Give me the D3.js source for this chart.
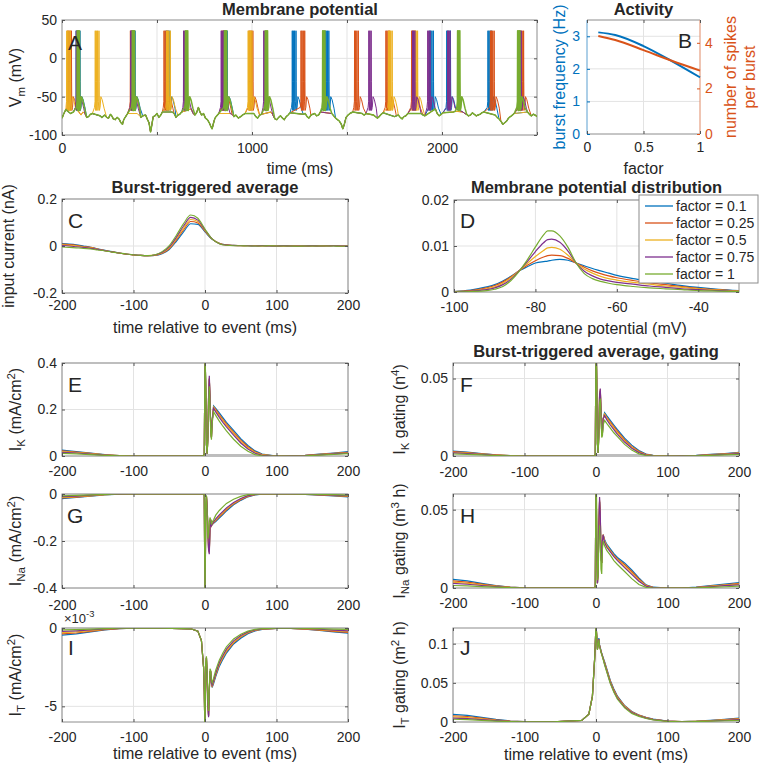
<!DOCTYPE html>
<html><head><meta charset="utf-8">
<script src="https://cdn.jsdelivr.net/npm/d3@7"></script>
<style>body{margin:0;background:#fff} text{font-family:"Liberation Sans",Arial,Helvetica,sans-serif}</style>
</head><body><script>
// ---------------- DATA ----------------
const seriesColors = ['#0072BD','#D95319','#EDB120','#7E2F8E','#77AC30'];
const factorLabels = ['factor = 0.1','factor = 0.25','factor = 0.5','factor = 0.75','factor = 1'];

// Panel A: shared sub-threshold membrane potential (time ms, mV)
const vmBase = [[0,-78],[10,-72],[20,-67],[45,-72],[60,-70],[100,-74],[110,-70],[120,-72],[130,-77],[140,-76],[150,-73],[160,-72],[200,-75],[210,-77],[225,-74],[235,-77],[245,-78],[255,-73],[262,-75],[270,-79],[280,-80],[290,-77],[300,-79],[310,-84],[318,-86],[325,-80],[335,-76],[345,-72],[395,-72],[405,-74],[415,-77],[425,-75],[440,-74],[450,-80],[458,-84],[466,-96],[472,-88],[480,-76],[490,-75],[500,-72],[510,-77],[520,-74],[528,-70],[580,-70],[590,-72],[600,-77],[610,-74],[620,-73],[630,-70],[680,-66],[690,-72],[700,-74],[710,-70],[718,-64],[726,-70],[735,-74],[745,-72],[755,-78],[765,-80],[775,-84],[782,-88],[790,-92],[798,-84],[805,-78],[815,-75],[825,-72],[885,-72],[895,-73],[905,-76],[915,-74],[928,-78],[940,-76],[950,-74],[963,-72],[1010,-72],[1020,-76],[1030,-78],[1040,-74],[1050,-73],[1100,-70],[1110,-74],[1120,-79],[1130,-80],[1140,-77],[1150,-75],[1160,-78],[1170,-80],[1180,-76],[1190,-74],[1200,-71],[1270,-73],[1280,-72],[1290,-76],[1300,-78],[1310,-74],[1320,-73],[1330,-72],[1340,-75],[1350,-74],[1360,-70],[1420,-72],[1430,-75],[1440,-78],[1450,-80],[1460,-82],[1470,-86],[1478,-92],[1486,-86],[1495,-77],[1505,-74],[1515,-72],[1530,-70],[1580,-72],[1590,-74],[1600,-72],[1640,-74],[1650,-76],[1660,-78],[1670,-76],[1680,-73],[1690,-71],[1750,-76],[1760,-75],[1770,-74],[1780,-77],[1790,-79],[1800,-76],[1810,-75],[1820,-72],[1890,-72],[1900,-74],[1910,-75],[1965,-66],[1975,-72],[1985,-75],[1995,-73],[2005,-71],[2060,-70],[2070,-69],[2110,-70],[2120,-72],[2130,-73],[2140,-75],[2150,-74],[2160,-71],[2170,-73],[2180,-75],[2190,-74],[2200,-73],[2210,-71],[2220,-70],[2280,-74],[2290,-77],[2300,-79],[2310,-82],[2320,-86],[2330,-84],[2340,-82],[2350,-78],[2360,-76],[2370,-74],[2380,-72],[2450,-70],[2460,-73],[2470,-75],[2480,-73],[2490,-74],[2500,-76]];
// burst onset times (ms) per series
const burstStarts = [
  [75,365,548,850,1212,1385,1935,2025,2242],
  [30,360,537,842,985,1258,1540,1705,1840,2255,2410],
  [25,175,550,980,1718,1852],
  [75,362,640,838,1062,1615,1845,1925,2030,2405],
  [80,370,650,855,1070,1372,2082,2398]
];
const spikesPerBurstA = [4,4,4,3,3];
const burstIsi = [0,5.5,12,19.5];
const spikeShape = [[-1,-56],[0,36],[1,-30],[2.2,-68]];
const preBurst = [[-4,-64]];
const burstTail = [[6,-64],[10,-50],[17,-54],[27,-65]];

// Panel B
const factors = [0.1,0.25,0.5,0.75,1];
const burstFreq = [3.12,3.04,2.70,2.24,1.74];
const spikesPerBurst = [4.30,4.12,3.68,3.21,2.78];

// Panel C
const tC = [-200,-190,-180,-170,-160,-150,-140,-130,-120,-110,-100,-90,-80,-70,-60,-50,-40,-30,-20,-10,0,10,20,30,40,50,60,70,80,90,100,110,120,130,140,150,160,170,180,190,200];
const inputCurrent = [
  [.010,.008,.005,.000,-.005,-.012,-.018,-.024,-.030,-.035,-.038,-.040,-.041,-.040,-.033,-.015,.020,.060,.095,.092,.060,.028,.012,.005,.003,.002,.002,.001,.002,.001,.000,.001,.000,.000,.001,.000,.001,.002,.001,.000,.000],
  [.008,.006,.003,-.002,-.006,-.013,-.019,-.025,-.030,-.035,-.038,-.040,-.041,-.040,-.031,-.012,.026,.068,.104,.098,.063,.029,.012,.005,.003,.002,.001,.002,.001,.001,.000,.000,.001,.000,.000,.001,.000,.001,.002,.000,.000],
  [.005,.003,.000,-.004,-.008,-.014,-.020,-.025,-.030,-.034,-.038,-.040,-.041,-.039,-.029,-.008,.032,.076,.113,.104,.066,.030,.011,.004,.002,.001,.002,.001,.000,.001,.001,.000,.000,.001,.000,.000,.001,.000,.001,.000,.000],
  [.002,.000,-.003,-.006,-.010,-.015,-.020,-.025,-.030,-.034,-.037,-.040,-.041,-.038,-.027,-.004,.038,.085,.122,.110,.069,.030,.010,.004,.002,.001,.001,.000,.001,.000,.000,.001,.000,.000,.000,.001,.000,.000,.001,.000,.000],
  [-.004,-.006,-.008,-.010,-.013,-.017,-.021,-.026,-.030,-.034,-.037,-.040,-.041,-.037,-.024,.002,.046,.095,.132,.118,.072,.030,.010,.003,.001,.001,.000,.000,.000,.001,.000,.000,.000,-.001,.000,.000,.000,.000,.000,-.001,.000]
];

// Panel D
const vmBins = [-100,-96,-92,-90,-88,-86,-84,-82,-80,-78,-77,-76,-74,-72,-70,-68,-66,-64,-62,-60,-56,-52,-48,-44,-40,-35,-30];
const vmDensity = [
  [.0001,.0004,.0011,.0016,.0024,.0034,.0046,.0055,.0063,.0066,.0067,.0069,.0071,.0069,.0063,.0057,.0051,.0046,.0041,.0036,.0029,.0024,.0019,.0014,.0010,.0006,.0003],
  [.0001,.0003,.0009,.0014,.0022,.0033,.0046,.0058,.0068,.0076,.0079,.0080,.0079,.0073,.0063,.0054,.0046,.0040,.0035,.0031,.0025,.0020,.0016,.0012,.0008,.0005,.0002],
  [.0001,.0002,.0007,.0011,.0019,.0031,.0046,.0062,.0077,.0090,.0096,.0097,.0093,.0080,.0063,.0050,.0041,.0034,.0029,.0026,.0021,.0017,.0013,.0010,.0007,.0004,.0002],
  [.0000,.0002,.0005,.0009,.0016,.0028,.0046,.0066,.0088,.0107,.0114,.0115,.0108,.0089,.0063,.0045,.0035,.0028,.0024,.0021,.0017,.0013,.0010,.0007,.0005,.0003,.0001],
  [.0000,.0001,.0003,.0006,.0012,.0025,.0045,.0070,.0098,.0124,.0133,.0133,.0122,.0097,.0063,.0040,.0029,.0023,.0019,.0016,.0012,.0009,.0007,.0005,.0003,.0002,.0001]
];

// Panels E-J: burst-triggered averages on a common time grid (ms)
const tTrig = [-200,-180,-160,-140,-120,-100,-60,-20,-10,-5,-2,-1,0,1,2,3,4,5,6,7,8,9,10,12,15,20,25,30,40,50,60,70,80,100,120,140,160,180,200];
const iK = [
  [.025,.019,.012,.006,.002,0,0,0,0,0,.002,.01,.45,.30,.05,.01,.08,.25,.33,.25,.12,.08,.15,.215,.205,.185,.165,.145,.11,.075,.045,.022,.008,0,.001,.003,.008,.013,.019],
  [.022,.017,.011,.005,.002,0,0,0,0,0,.002,.01,.45,.30,.05,.01,.08,.25,.33,.25,.12,.08,.15,.21,.2,.178,.158,.138,.103,.068,.04,.018,.006,0,.001,.003,.007,.011,.016],
  [.019,.015,.01,.005,.002,0,0,0,0,0,.002,.01,.45,.30,.05,.01,.08,.25,.335,.25,.12,.08,.15,.21,.195,.172,.152,.132,.097,.062,.035,.015,.005,0,.001,.002,.006,.01,.014],
  [.016,.013,.008,.004,.001,0,0,0,0,0,.002,.01,.45,.30,.05,.01,.08,.26,.345,.26,.12,.08,.15,.205,.19,.166,.145,.125,.09,.056,.03,.012,.003,0,.001,.002,.005,.009,.012],
  [.011,.009,.006,.003,.001,0,0,0,0,0,.002,.01,.45,.32,.05,.01,.07,.22,.3,.22,.1,.07,.14,.19,.175,.15,.128,.108,.072,.042,.02,.006,.001,0,0,.001,.004,.007,.01]
];
const gK = [
  [.0032,.0025,.0016,.0008,.0003,0,0,0,0,0,.0002,.001,.08,.05,.008,.002,.015,.038,.042,.03,.014,.015,.024,.028,.026,.023,.02,.017,.0115,.007,.0035,.0013,.0004,0,.0001,.0004,.001,.0016,.0024],
  [.0028,.0022,.0014,.0007,.0002,0,0,0,0,0,.0002,.001,.08,.05,.008,.002,.015,.038,.042,.03,.014,.015,.024,.027,.025,.022,.019,.016,.0105,.0062,.003,.001,.0003,0,.0001,.0003,.0009,.0014,.002],
  [.0024,.0019,.0012,.0006,.0002,0,0,0,0,0,.0002,.001,.08,.05,.008,.002,.015,.039,.043,.03,.014,.015,.024,.027,.0245,.021,.018,.015,.0098,.0056,.0026,.0008,.0002,0,.0001,.0003,.0008,.0012,.0018],
  [.002,.0016,.001,.0005,.0001,0,0,0,0,0,.0002,.001,.08,.05,.008,.002,.016,.04,.0435,.031,.014,.015,.024,.026,.0235,.02,.017,.014,.009,.005,.0022,.0006,.0001,0,.0001,.0002,.0006,.001,.0015],
  [.0013,.001,.0007,.0003,.0001,0,0,0,0,0,.0002,.001,.08,.052,.008,.002,.013,.034,.037,.026,.012,.013,.02,.023,.021,.018,.015,.0125,.0075,.0038,.0014,.0003,0,0,0,.0001,.0004,.0007,.001]
];
const iNa = [
  [-.02,-.015,-.009,-.004,-.001,0,0,0,0,0,0,-.005,-.5,-.1,-.01,-.05,-.15,-.23,-.24,-.14,-.11,-.135,-.13,-.125,-.117,-.102,-.088,-.072,-.046,-.027,-.012,-.004,-.001,0,0,-.002,-.005,-.008,-.012],
  [-.017,-.013,-.008,-.003,-.001,0,0,0,0,0,0,-.005,-.5,-.1,-.01,-.05,-.15,-.23,-.245,-.14,-.11,-.135,-.13,-.122,-.113,-.097,-.083,-.067,-.042,-.024,-.01,-.003,-.001,0,0,-.002,-.004,-.007,-.01],
  [-.014,-.011,-.007,-.003,-.001,0,0,0,0,0,0,-.005,-.5,-.1,-.01,-.05,-.15,-.235,-.25,-.14,-.11,-.135,-.13,-.12,-.11,-.093,-.078,-.063,-.039,-.021,-.008,-.002,0,0,0,-.001,-.003,-.006,-.008],
  [-.011,-.009,-.005,-.002,-.001,0,0,0,0,0,0,-.005,-.5,-.1,-.01,-.05,-.155,-.24,-.256,-.15,-.11,-.135,-.13,-.118,-.106,-.089,-.074,-.059,-.036,-.019,-.007,-.002,0,0,0,-.001,-.003,-.005,-.007],
  [-.008,-.006,-.004,-.002,0,0,0,0,0,0,0,-.005,-.5,-.05,-.005,-.08,-.19,-.17,-.12,-.1,-.11,-.13,-.12,-.11,-.09,-.07,-.055,-.04,-.022,-.01,-.003,-.001,0,0,0,-.001,-.002,-.003,-.005]
];
const gNa = [
  [.0055,.0045,.003,.0016,.0006,.0001,0,0,0,0,0,.001,.08,.03,.003,.01,.04,.055,.045,.02,.016,.03,.034,.031,.028,.025,.022,.0195,.016,.0115,.0065,.002,.0005,0,0,.0005,.0015,.0025,.0035],
  [.0045,.0037,.0025,.0013,.0005,.0001,0,0,0,0,0,.001,.08,.03,.003,.01,.04,.055,.046,.02,.016,.03,.034,.03,.027,.024,.021,.0185,.015,.0105,.0058,.0017,.0004,0,0,.0004,.0012,.002,.003],
  [.0037,.003,.002,.0011,.0004,.0001,0,0,0,0,0,.001,.08,.03,.003,.01,.04,.056,.047,.02,.016,.03,.034,.03,.027,.0235,.0205,.018,.014,.0095,.005,.0014,.0003,0,0,.0003,.001,.0018,.0025],
  [.003,.0024,.0016,.0009,.0003,0,0,0,0,0,0,.001,.08,.03,.003,.01,.042,.058,.048,.021,.016,.03,.034,.029,.026,.023,.02,.0175,.013,.0087,.0043,.0011,.0002,0,0,.0002,.0008,.0015,.002],
  [.0016,.0013,.0009,.0005,.0002,0,0,0,0,0,0,.001,.08,.05,.005,.008,.03,.04,.03,.012,.009,.025,.03,.027,.024,.021,.0175,.015,.0105,.006,.0022,.0004,0,0,0,.0001,.0004,.0008,.0012]
];
// I_T in units of 1e-3 mA/cm^2
const iT = [
  [-.45,-.38,-.25,-.12,-.04,-.01,-.01,-.05,-.2,-.8,-2.5,-4,-7,-3,-1.9,-3,-4.8,-5.6,-4,-2.8,-2.8,-3.5,-3.8,-3.55,-3.1,-2.45,-2,-1.6,-1.02,-.65,-.36,-.18,-.09,-.03,-.03,-.08,-.16,-.25,-.33],
  [-.38,-.32,-.21,-.1,-.035,-.01,-.01,-.05,-.2,-.8,-2.5,-4,-7,-3,-1.9,-3,-4.8,-5.6,-4,-2.8,-2.8,-3.5,-3.75,-3.45,-3,-2.35,-1.9,-1.5,-.95,-.58,-.32,-.16,-.08,-.025,-.025,-.07,-.13,-.21,-.28],
  [-.3,-.25,-.17,-.08,-.03,-.01,-.01,-.05,-.2,-.8,-2.5,-4,-7,-3,-1.9,-3,-4.8,-5.6,-4,-2.8,-2.8,-3.5,-3.7,-3.4,-2.95,-2.3,-1.85,-1.45,-.9,-.54,-.29,-.14,-.07,-.02,-.02,-.05,-.1,-.17,-.23],
  [-.22,-.18,-.12,-.06,-.02,-.01,-.01,-.05,-.2,-.8,-2.5,-4,-7,-3,-1.9,-3,-4.9,-5.7,-4.1,-2.8,-2.8,-3.5,-3.65,-3.35,-2.9,-2.2,-1.75,-1.35,-.82,-.48,-.25,-.12,-.06,-.02,-.02,-.04,-.08,-.13,-.18],
  [-.12,-.1,-.07,-.035,-.012,-.005,-.005,-.05,-.2,-.8,-2.5,-4,-7,-2.2,-1.8,-2.8,-4.5,-5.3,-3.8,-2.6,-2.7,-3.3,-3.5,-3.2,-2.7,-2.05,-1.6,-1.2,-.7,-.4,-.2,-.09,-.04,-.01,-.01,-.02,-.04,-.07,-.09]
];
const gT = [
  [.0098,.0085,.006,.0033,.0013,.0004,.0002,.002,.01,.033,.079,.1,.125,.11,.093,.1,.107,.098,.095,.091,.088,.085,.082,.077,.068,.053,.042,.033,.021,.0135,.009,.006,.0037,.0013,.0005,.001,.002,.0033,.005],
  [.008,.007,.005,.0028,.0011,.0004,.0002,.002,.01,.033,.079,.1,.125,.11,.093,.1,.106,.097,.094,.09,.087,.084,.081,.076,.067,.052,.041,.032,.0205,.013,.0087,.0057,.0035,.0012,.0004,.0009,.0018,.003,.0043],
  [.0065,.0057,.004,.0022,.0009,.0003,.0002,.002,.01,.033,.079,.1,.125,.11,.093,.1,.106,.097,.094,.09,.087,.084,.081,.075,.066,.051,.04,.031,.02,.0125,.0083,.0053,.0032,.0011,.0004,.0008,.0016,.0026,.0037],
  [.005,.0044,.003,.0017,.0007,.0002,.0002,.002,.01,.033,.079,.1,.125,.11,.093,.1,.106,.097,.094,.09,.087,.084,.081,.074,.065,.05,.039,.03,.019,.012,.008,.005,.003,.001,.0003,.0006,.0013,.0021,.003],
  [.0035,.003,.002,.0011,.0005,.0002,.0001,.002,.01,.033,.079,.1,.125,.11,.092,.099,.105,.096,.093,.089,.086,.083,.08,.073,.064,.049,.038,.029,.018,.011,.0072,.0045,.0027,.0009,.0003,.0005,.001,.0016,.0022]
];
const zeroBarRange = [0,78];

// ---------------- DRAWING ----------------
const svg = d3.select('body').append('svg').attr('width',760).attr('height',768);
const INK = '#262626', BOX = '#8c8c8c', GRID = '#e3e3e3';
let clipN = 0;

function panel(p){
  const x = d3.scaleLinear().domain(p.xd).range([p.l,p.r]);
  const y = d3.scaleLinear().domain(p.yd).range([p.b,p.t]);
  const g = svg.append('g');
  g.selectAll('.gx').data(p.xgrid || p.xt).join('line')
    .attr('x1',d=>x(d)).attr('x2',d=>x(d)).attr('y1',p.t).attr('y2',p.b).attr('stroke',GRID);
  g.selectAll('.gy').data(p.ygrid || p.yt).join('line')
    .attr('y1',d=>y(d)).attr('y2',d=>y(d)).attr('x1',p.l).attr('x2',p.r).attr('stroke',GRID);
  g.append('rect').attr('x',p.l).attr('y',p.t).attr('width',p.r-p.l).attr('height',p.b-p.t)
    .attr('fill','none').attr('stroke',BOX).attr('stroke-width',1);
  const id = 'clip'+(clipN++);
  svg.append('clipPath').attr('id',id).append('rect')
    .attr('x',p.l).attr('y',p.t).attr('width',p.r-p.l).attr('height',p.b-p.t);
  const plot = svg.append('g').attr('clip-path',`url(#${id})`);
  const ax = svg.append('g');
  const xtm = p.xtm || p.xt;
  const lab = d => p.xt.includes(d) ? String(d) : '';
  ax.append('g').attr('transform',`translate(0,${p.b})`)
    .call(d3.axisBottom(x).tickValues(xtm).tickSizeInner(-3).tickSizeOuter(0).tickPadding(p.xpad).tickFormat(lab));
  ax.append('g').attr('transform',`translate(0,${p.t})`)
    .call(d3.axisTop(x).tickValues(xtm).tickSizeInner(-3).tickSizeOuter(0).tickFormat(''));
  ax.append('g').attr('transform',`translate(${p.l},0)`)
    .call(d3.axisLeft(y).tickValues(p.yt).tickSizeInner(-3).tickSizeOuter(0).tickPadding(p.ypad||5).tickFormat(d=>String(d)));
  ax.append('g').attr('transform',`translate(${p.r},0)`)
    .call(d3.axisRight(y).tickValues(p.yt).tickSizeInner(-3).tickSizeOuter(0).tickFormat(''));
  ax.selectAll('.domain').remove();
  ax.selectAll('.tick line').attr('stroke','#555');
  ax.selectAll('.tick text').attr('font-size',14).attr('fill',INK).attr('font-family','"Liberation Sans",Arial,sans-serif');
  return {x,y,plot,ax};
}

function addText(x,y,parts,opt){
  opt = opt||{};
  const t = svg.append('text').attr('x',x).attr('y',y)
    .attr('text-anchor',opt.anchor||'middle').attr('font-size',opt.size||16)
    .attr('font-weight',opt.bold?'bold':'normal').attr('fill',opt.color||INK);
  if(opt.rotate) t.attr('transform',`rotate(-90,${x},${y})`);
  let cur = 0;
  (typeof parts==='string'?[[parts,'n']]:parts).forEach(([s,k])=>{
    const target = k==='sub'? 4 : k==='sup' ? -6 : 0;
    const ts = t.append('tspan').text(s).attr('dy',target-cur);
    if(k!=='n') ts.attr('font-size',(opt.size||16)*0.72);
    cur = target;
  });
  return t;
}

const lineXY = (P,xs) => d3.line().x((d,i)=>P.x(xs[i])).y(d=>P.y(d));

// ---- Panel A ----
const A = panel({l:62,r:537,t:20,b:135,xd:[0,2500],yd:[-100,50],xt:[0,1000,2000],xtm:[0,500,1000,1500,2000,2500],
  xgrid:[500,1000,1500,2000],yt:[-100,-50,0,50],ygrid:[-50,0],xpad:8});
function vmTrace(k){
  const n = spikesPerBurstA[k], last = burstIsi[n-1];
  const wins = burstStarts[k].map(s=>[s-4, s+last+32]);
  const pts = vmBase.filter(([t])=>!wins.some(([a,b])=>t>=a && t<=b));
  burstStarts[k].forEach(s=>{
    preBurst.forEach(([dt,v])=>pts.push([s+dt,v]));
    for(let i=0;i<n;i++) spikeShape.forEach(([dt,v])=>pts.push([s+burstIsi[i]+dt,v]));
    burstTail.forEach(([dt,v])=>pts.push([s+last+dt,v]));
  });
  return pts.sort((a,b)=>a[0]-b[0]);
}
seriesColors.forEach((c,k)=>{
  A.plot.append('path').datum(vmTrace(k)).attr('fill','none').attr('stroke',c).attr('stroke-width',k===4?1.5:1)
    .attr('stroke-linejoin','round')
    .attr('d',d3.line().x(d=>A.x(d[0])).y(d=>A.y(d[1])));
});
addText(300,15,'Membrane potential',{bold:true,size:16.5});
addText(300,174,'time (ms)');
addText(21,77.5,[['V','n'],['m','sub'],[' (mV)','n']],{rotate:true});
addText(68,50,'A',{anchor:'start',size:21});

// ---- Panel B ----
const bL=587,bR=700,bT=20,bB=134;
const bx = d3.scaleLinear().domain([0,1]).range([bL,bR]);
const byL = d3.scaleLinear().domain([0,3.5]).range([bB,bT]);
const byR = d3.scaleLinear().domain([0,5]).range([bB,bT]);
svg.append('line').attr('x1',bx(0.5)).attr('x2',bx(0.5)).attr('y1',bT).attr('y2',bB).attr('stroke',GRID);
[1,2,3].forEach(v=>svg.append('line').attr('x1',bL).attr('x2',bR).attr('y1',byL(v)).attr('y2',byL(v)).attr('stroke',GRID));
svg.append('line').attr('x1',bL).attr('x2',bR).attr('y1',bT).attr('y2',bT).attr('stroke',BOX);
svg.append('line').attr('x1',bL).attr('x2',bR).attr('y1',bB).attr('y2',bB).attr('stroke',BOX);
svg.append('line').attr('x1',bL).attr('x2',bL).attr('y1',bT).attr('y2',bB).attr('stroke','#5a9fd0');
svg.append('line').attr('x1',bR).attr('x2',bR).attr('y1',bT).attr('y2',bB).attr('stroke','#e08a66');
const bax = svg.append('g');
bax.append('g').attr('transform',`translate(0,${bB})`).call(d3.axisBottom(bx).tickValues([0,0.5,1]).tickSizeInner(-3).tickSizeOuter(0).tickPadding(8).tickFormat(d=>String(d)));
bax.append('g').attr('transform',`translate(0,${bT})`).call(d3.axisTop(bx).tickValues([0,0.5,1]).tickSizeInner(-3).tickSizeOuter(0).tickFormat(''));
const bl = bax.append('g').attr('transform',`translate(${bL},0)`).call(d3.axisLeft(byL).tickValues([0,1,2,3]).tickSizeInner(-3).tickSizeOuter(0).tickPadding(7).tickFormat(d=>String(d)));
const br = bax.append('g').attr('transform',`translate(${bR},0)`).call(d3.axisRight(byR).tickValues([0,2,4]).tickSizeInner(-3).tickSizeOuter(0).tickPadding(5).tickFormat(d=>String(d)));
bax.selectAll('.domain').remove();
bax.selectAll('.tick text').attr('font-size',14).attr('fill',INK);
bax.selectAll('.tick line').attr('stroke','#555');
bl.selectAll('.tick text').attr('fill',seriesColors[0]); bl.selectAll('.tick line').attr('stroke',seriesColors[0]);
br.selectAll('.tick text').attr('fill',seriesColors[1]); br.selectAll('.tick line').attr('stroke',seriesColors[1]);
svg.append('path').datum(burstFreq).attr('fill','none').attr('stroke',seriesColors[0]).attr('stroke-width',2)
  .attr('d',d3.line().x((d,i)=>bx(factors[i])).y(d=>byL(d)).curve(d3.curveMonotoneX));
svg.append('path').datum(spikesPerBurst).attr('fill','none').attr('stroke',seriesColors[1]).attr('stroke-width',2)
  .attr('d',d3.line().x((d,i)=>bx(factors[i])).y(d=>byR(d)).curve(d3.curveMonotoneX));
addText(643.5,15,'Activity',{bold:true,size:16.5});
addText(643.5,174,'factor');
addText(565,77,'burst frequency (Hz)',{rotate:true,color:seriesColors[0]});
addText(736,77,'number of spikes',{rotate:true,color:seriesColors[1]});
addText(755,77,'per burst',{rotate:true,color:seriesColors[1]});
addText(678,48,'B',{anchor:'start',size:21});

// ---- Panel C ----
const trigX = [-200,-100,0,100,200];
const C = panel({l:62,r:348,t:199,b:293,xd:[-200,200],yd:[-0.2,0.2],xt:trigX,yt:[-0.2,0,0.2],xpad:7});
inputCurrent.forEach((s,k)=>C.plot.append('path').datum(s).attr('fill','none').attr('stroke',seriesColors[k]).attr('stroke-width',1.1)
  .attr('d',lineXY(C,tC).curve(d3.curveMonotoneX)));
addText(205,193,'Burst-triggered average',{bold:true,size:16.5});
addText(205,333,'time relative to event (ms)');
addText(14,246,'input current (nA)',{rotate:true});
addText(68,228,'C',{anchor:'start',size:21});

// ---- Panel D ----
const D = panel({l:454,r:739,t:200,b:292,xd:[-100,-30],yd:[0,0.02],xt:[-100,-80,-60,-40],yt:[0,0.01,0.02],xpad:10});
vmDensity.forEach((s,k)=>D.plot.append('path').datum(s).attr('fill','none').attr('stroke',seriesColors[k]).attr('stroke-width',1.2)
  .attr('d',lineXY(D,vmBins).curve(d3.curveMonotoneX)));
addText(596.5,193,'Membrane potential distribution',{bold:true,size:16.5});
addText(596.5,334,'membrane potential (mV)');
addText(460,228,'D',{anchor:'start',size:21});
const leg = svg.append('g');
leg.append('rect').attr('x',639).attr('y',195).attr('width',119).attr('height',88).attr('fill','#fff').attr('stroke',BOX);
factorLabels.forEach((f,k)=>{
  const yy = 206 + 17*k;
  leg.append('line').attr('x1',645).attr('x2',673).attr('y1',yy).attr('y2',yy).attr('stroke',seriesColors[k]).attr('stroke-width',1.3);
  leg.append('text').attr('x',676).attr('y',yy).attr('dy','0.35em').attr('font-size',14).attr('fill',INK).text(f);
});

// ---- Panels E-J ----
function trigPanel(spec, data){
  const P = panel(Object.assign({xd:[-200,200],xt:trigX},spec));
  if(spec.zeroBar){
    P.plot.append('line').attr('x1',P.x(zeroBarRange[0])).attr('x2',P.x(zeroBarRange[1]))
      .attr('y1',P.y(0)).attr('y2',P.y(0)).attr('stroke','#bdbdbd').attr('stroke-width',4);
  }
  data.forEach((s,k)=>P.plot.append('path').datum(s).attr('fill','none').attr('stroke',seriesColors[k]).attr('stroke-width',1.2)
    .attr('d',lineXY(P,tTrig)));
  return P;
}
trigPanel({l:62,r:348,t:363,b:456,yd:[0,0.4],yt:[0,0.2,0.4],xpad:10,zeroBar:true}, iK);
addText(21,409.5,[['I','n'],['K','sub'],[' (mA/cm','n'],['2','sup'],[')','n']],{rotate:true});
addText(68,392,'E',{anchor:'start',size:21});

trigPanel({l:453,r:739,t:363,b:456,yd:[0,0.06],yt:[0,0.05],xpad:11,zeroBar:true}, gK);
addText(596,357,'Burst-triggered average, gating',{bold:true,size:16.5});
addText(405,409.5,[['I','n'],['K','sub'],[' gating (n','n'],['4','sup'],[')','n']],{rotate:true});
addText(460,392,'F',{anchor:'start',size:21});

trigPanel({l:62,r:348,t:494,b:588,yd:[-0.4,0],yt:[-0.4,-0.2,0],xpad:12}, iNa);
addText(21,541,[['I','n'],['Na','sub'],[' (mA/cm','n'],['2','sup'],[')','n']],{rotate:true});
addText(67,523,'G',{anchor:'start',size:21});

trigPanel({l:453,r:739,t:494,b:588,yd:[0,0.06],yt:[0,0.05],xpad:10}, gNa);
addText(405,541,[['I','n'],['Na','sub'],[' gating (m','n'],['3','sup'],[' h)','n']],{rotate:true});
addText(460,523,'H',{anchor:'start',size:21});

trigPanel({l:62,r:348,t:628,b:722,yd:[-6,0],yt:[-5,0],xpad:10}, iT);
addText(205,759,'time relative to event (ms)');
addText(21,675,[['I','n'],['T','sub'],[' (mA/cm','n'],['2','sup'],[')','n']],{rotate:true});
addText(68,655,'I',{anchor:'start',size:21});
addText(64,623,[['×10','n'],['-3','sup']],{anchor:'start',size:13});

trigPanel({l:453,r:739,t:628,b:722,yd:[0,0.12],yt:[0,0.05,0.1],xpad:10}, gT);
addText(596,760,'time relative to event (ms)');
addText(405,675,[['I','n'],['T','sub'],[' gating (m','n'],['2','sup'],[' h)','n']],{rotate:true});
addText(460,655,'J',{anchor:'start',size:21});
</script></body></html>
